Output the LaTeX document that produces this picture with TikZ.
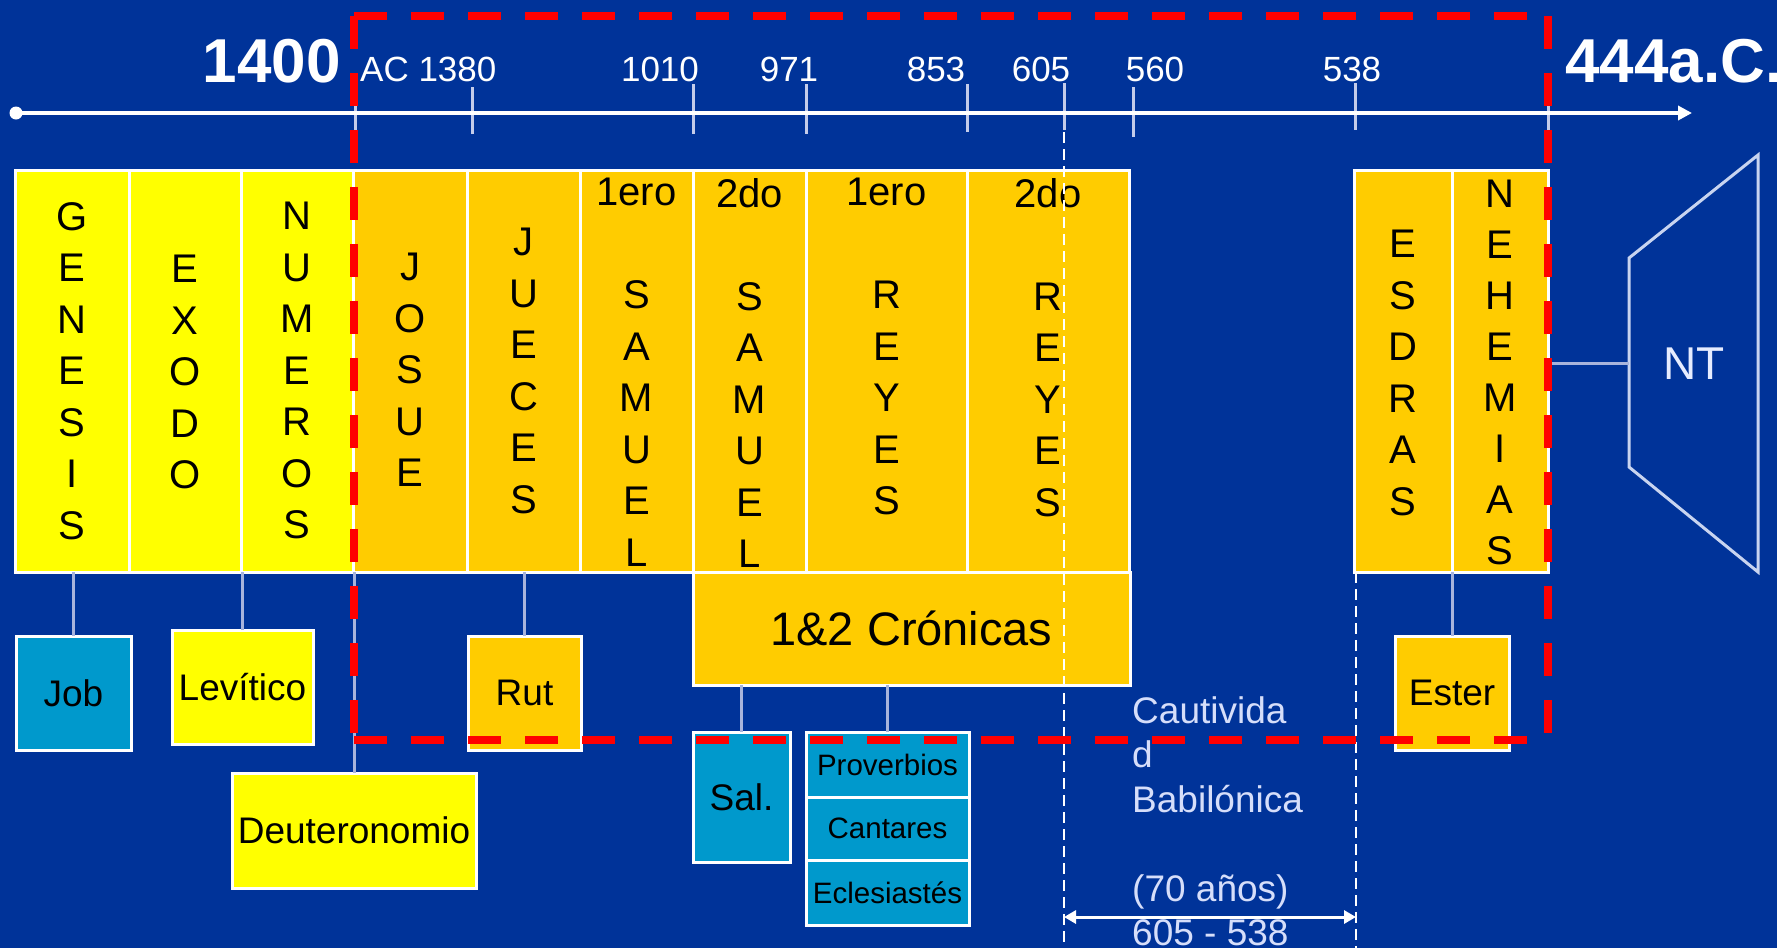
\documentclass[tikz,border=0pt]{standalone}
\usepackage{fontspec}
\setmainfont{Liberation Sans}
\usetikzlibrary{arrows.meta}
\definecolor{bg}{HTML}{003399}
\definecolor{yel}{HTML}{FFFF00}
\definecolor{gold}{HTML}{FFCC00}
\definecolor{lblue}{HTML}{0099CC}
\definecolor{connc}{HTML}{A8B4DC}
\definecolor{tickc}{HTML}{C4CCEA}
\definecolor{capt}{HTML}{D6DEFA}
\definecolor{ntc}{HTML}{C8D4F0}
\definecolor{redd}{HTML}{FF0000}
\begin{document}
\begin{tikzpicture}[x=1pt,y=-1pt,
  box/.style={draw=white, line width=3pt, inner sep=0pt, outer sep=0pt},
  ybox/.style={box, fill=yel},
  gbox/.style={box, fill=gold},
  bbox/.style={box, fill=lblue},
  colfont/.style={font=\fontsize{40pt}{51.5pt}\selectfont, align=center, anchor=north, inner sep=0pt, text=black},
  smallfont/.style={font=\fontsize{37pt}{44pt}\selectfont, text=black},
  tinyfont/.style={font=\fontsize{29.5pt}{35pt}\selectfont, text=black},
  connector/.style={draw=connc, line width=3pt},
  tickline/.style={draw=tickc, line width=3pt},
  year/.style={text=white, font=\fontsize{35pt}{40pt}\selectfont, inner sep=0pt},
  bigyear/.style={text=white, font=\bfseries\fontsize{62pt}{70pt}\selectfont, inner sep=0pt},
  reddash/.style={draw=redd, line width=8pt, dash pattern=on 33pt off 24pt},
  wdash/.style={draw=white, line width=2.5pt, dash pattern=on 11pt off 6pt},
]
\useasboundingbox (0,0) rectangle (1777,948);
\clip (0,0) rectangle (1777,948);
\fill[bg] (0,0) rectangle (1777,948);

% timeline
\coordinate (tl0) at (16,113);
\coordinate (tl1) at (1692,113);
\foreach \x/\a/\b in {355/87/134, 472/87/134, 693/84/134, 806/84/134, 967/84/132, 1064/83/130, 1133/87/137, 1355/83/130, 1548/83/130}
  \draw[tickline] (\x,\a) -- (\x,\b);
\draw[white, line width=3.5pt, -{Triangle[length=14pt,width=14pt]}] (tl0) -- (tl1);
\fill[white] (tl0) circle (6.5);

% 538 dashed line
\coordinate (d538a) at (1356,572);
\coordinate (d538b) at (1356,948);
\draw[wdash] (d538a) -- (d538b);

% top row boxes
\node[ybox, minimum width=114pt, minimum height=402pt] (gen) at (72,371) {};
\node[ybox, minimum width=112pt, minimum height=402pt] (exo) at (185,371) {};
\node[ybox, minimum width=112pt, minimum height=402pt] (num) at (297,371) {};
\node[gbox, minimum width=114pt, minimum height=402pt] (jos) at (410,371) {};
\node[gbox, minimum width=113pt, minimum height=402pt] (jue) at (523.5,371) {};
\node[gbox, minimum width=113pt, minimum height=402pt] (sam1) at (636.5,371) {};
\node[gbox, minimum width=113pt, minimum height=402pt] (sam2) at (749.5,371) {};
\node[gbox, minimum width=161pt, minimum height=402pt] (rey1) at (886.5,371) {};
\node[gbox, minimum width=162pt, minimum height=402pt] (rey2) at (1048,371) {};
\node[gbox, minimum width=98pt, minimum height=402pt] (esd) at (1403,371) {};
\node[gbox, minimum width=96pt, minimum height=402pt] (neh) at (1500,371) {};

\node[colfont] (genT) at (72,202) {G\\E\\N\\E\\S\\I\\S};
\node[colfont] (exoT) at (185,255) {E\\X\\O\\D\\O};
\node[colfont] (numT) at (297,202) {N\\U\\M\\E\\R\\O\\S};
\node[colfont] (josT) at (410,253) {J\\O\\S\\U\\E};
\node[colfont] (jueT) at (523.5,228) {J\\U\\E\\C\\E\\S};
\node[colfont] (sam1T) at (636.5,178) {1ero\\\mbox{}\\S\\A\\M\\U\\E\\L};
\node[colfont] (sam2T) at (749.5,178) {2do\\\mbox{}\\S\\A\\M\\U\\E\\L};
\node[colfont] (rey1T) at (886.5,178) {1ero\\\mbox{}\\R\\E\\Y\\E\\S};
\node[colfont] (rey2T) at (1048,178) {2do\\\mbox{}\\R\\E\\Y\\E\\S};
\node[colfont] (esdT) at (1403,230) {E\\S\\D\\R\\A\\S};
\node[colfont, font=\fontsize{40pt}{51pt}\selectfont] (nehT) at (1500,180) {N\\E\\H\\E\\M\\I\\A\\S};

% second row
\node[gbox, minimum width=437pt, minimum height=113pt, font=\fontsize{47pt}{52pt}\selectfont] (cro) at (911.5,628.5) {1\&2 Crónicas};
\node[bbox, minimum width=115pt, minimum height=114pt, smallfont] (job) at (73.5,693) {Job};
\node[ybox, minimum width=141pt, minimum height=114pt, smallfont] (lev) at (242.5,687) {Levítico};
\node[ybox, minimum width=244pt, minimum height=115pt, smallfont] (deu) at (354,830.5) {Deuteronomio};
\node[gbox, minimum width=113pt, minimum height=114pt, smallfont] (rut) at (524.5,693) {Rut};
\node[gbox, minimum width=114pt, minimum height=114pt, smallfont] (est) at (1452,693) {Ester};
\node[bbox, minimum width=97pt, minimum height=130pt, smallfont] (sal) at (741.5,797) {Sal.};
\node[bbox, minimum width=163pt, minimum height=65pt, tinyfont] (pro) at (887.5,764.5) {Proverbios};
\node[bbox, minimum width=163pt, minimum height=63pt, tinyfont] (can) at (887.5,828.5) {Cantares};
\node[bbox, minimum width=163pt, minimum height=65pt, tinyfont] (ecl) at (887.5,892.5) {Eclesiastés};

% connectors
\draw[connector] (job.north) -- (job.north |- gen.south);
\draw[connector] (lev.north) -- (lev.north |- exo.south);
\draw[connector] (deu.north) -- (deu.north |- num.south);
\draw[connector] (rut.north) -- (rut.north |- jue.south);
\draw[connector] (sal.north) -- (sal.north |- cro.south);
\draw[connector] (pro.north) -- (pro.north |- cro.south);
\draw[connector] (est.north) -- (est.north |- esd.south);

% NT
\coordinate (ntA) at (1629,258);
\coordinate (ntB) at (1758,155);
\coordinate (ntC) at (1758,572);
\coordinate (ntD) at (1629,467);
\coordinate (ntw) at (1629,363);
\draw[ntc, line width=3pt, line join=miter] (ntA) -- (ntB) -- (ntC) -- (ntD) -- cycle;
\draw[connector] (neh.east |- ntw) -- (ntw);
\node[text={rgb,255:red,230;green,236;blue,255}, font=\fontsize{46pt}{50pt}\selectfont, inner sep=0pt] (nt) at (1694,364) {NT};

% 605 dashed line
\coordinate (d605a) at (1064,132);
\coordinate (d605b) at (1064,948);
\draw[wdash] (d605a) -- (d605b);

% captivity arrow and text
\draw[white, line width=3pt, {Triangle[length=12pt,width=13pt]}-{Triangle[length=12pt,width=13pt]}] (d605a |- 0,917) -- (d538a |- 0,917);
\node[anchor=north west, align=left, inner sep=0pt, text=capt, font=\fontsize{37pt}{44.5pt}\selectfont] (capT) at (1132,696)
  {Cautivida\\d\\Babilónica\\\mbox{}\\(70 años)\\605 - 538};

% red dashed frame
\coordinate (rA) at (354,16);
\coordinate (rB) at (1548,740);
\draw[reddash] (rA) -- (rA -| rB);
\draw[reddash] (rA) -- (rA |- rB);
\draw[reddash] (rA |- rB) -- (rB);
\draw[reddash] (rA -| rB) -- (rB);

% year labels
\node[bigyear, anchor=base east] (y1400) at (341,82) {1400};
\node[year, anchor=base west] (yac) at (360,81) {AC 1380};
\node[year, anchor=base] (y1010) at (660,81) {1010};
\node[year, anchor=base] (y971) at (789,81) {971};
\node[year, anchor=base] (y853) at (936,81) {853};
\node[year, anchor=base] (y605) at (1041,81) {605};
\node[year, anchor=base] (y560) at (1155,81) {560};
\node[year, anchor=base] (y538) at (1352,81) {538};
\node[bigyear, anchor=base west] (y444) at (1565,82) {444a.C.};
\end{tikzpicture}
\end{document}
